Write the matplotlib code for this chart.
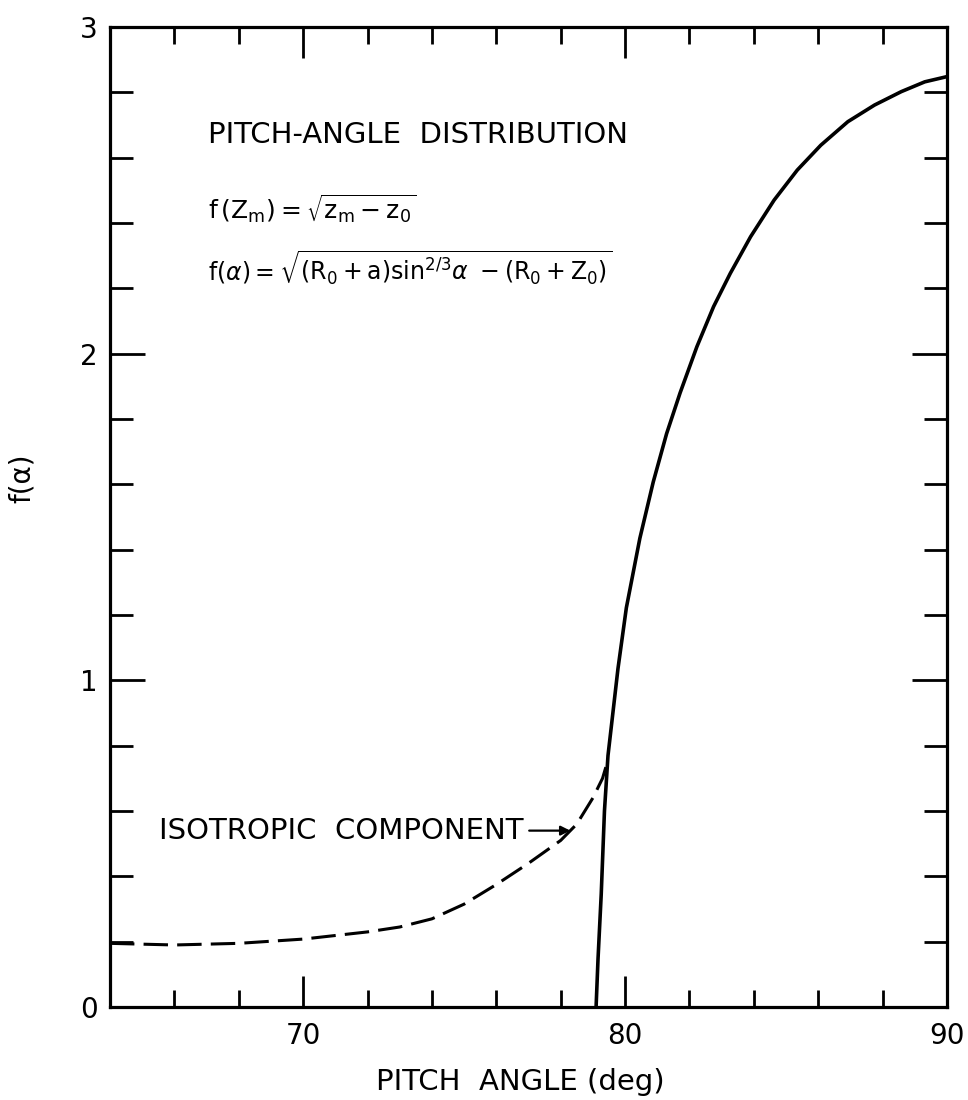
import matplotlib
matplotlib.use("Agg")
import matplotlib.pyplot as plt
from matplotlib.ticker import MultipleLocator

# solid curve: f(alpha) from the mirror-point distribution
solid_angle = [79.1, 79.16, 79.26, 79.36, 79.47, 79.625, 79.78, 80.04, 80.46,
               80.875, 81.29, 81.71, 82.23, 82.75, 83.27, 83.9, 84.63, 85.35,
               86.08, 86.92, 87.75, 88.58, 89.31, 90.0]
solid_f = [0.0, 0.147, 0.346, 0.60, 0.77, 0.903, 1.036, 1.222, 1.435,
           1.607, 1.755, 1.88, 2.021, 2.144, 2.246, 2.358, 2.47, 2.562,
           2.638, 2.71, 2.761, 2.802, 2.832, 2.848]

# dashed curve: isotropic component
iso_angle = [64.0, 66.0, 68.0, 70.0, 72.0, 73.0, 74.0, 75.0, 76.0, 77.0,
             77.5, 78.0, 78.5, 79.0, 79.3, 79.45]
iso_f = [0.195, 0.19, 0.195, 0.208, 0.23, 0.245, 0.27, 0.315, 0.375, 0.44,
         0.475, 0.51, 0.56, 0.64, 0.70, 0.75]

x_major = [70, 80, 90]
y_major = [0, 1, 2, 3]

plt.rcParams["font.family"] = ["DejaVu Sans"]
plt.rcParams["mathtext.fontset"] = "dejavusans"

fig = plt.figure(figsize=(9.68, 11), dpi=100)
ax = fig.add_axes([0.1136, 0.0845, 0.8647, 0.891])

ax.plot(solid_angle, solid_f, color="black", lw=2.6, solid_capstyle="butt",
        solid_joinstyle="round")
ax.plot(iso_angle, iso_f, color="black", lw=2.2, dashes=(8, 3))

ax.set_xlim(64, 90)
ax.set_ylim(0, 3)
ax.set_xticks(x_major)
ax.set_yticks(y_major)
ax.xaxis.set_minor_locator(MultipleLocator(2))
ax.yaxis.set_minor_locator(MultipleLocator(0.2))

for s in ax.spines.values():
    s.set_linewidth(2.3)

ax.tick_params(axis="both", which="both", direction="in", top=True, right=True,
               width=2.0, labelsize=20)
ax.tick_params(axis="x", which="major", length=22, pad=11)
ax.tick_params(axis="x", which="minor", length=12)
ax.tick_params(axis="y", which="major", length=25, pad=9)
ax.tick_params(axis="y", which="minor", length=16.5)

ax.set_xlabel("PITCH  ANGLE (deg)", fontsize=21)
ax.xaxis.set_label_coords(0.49, -0.062)
ax.set_ylabel("f(α)", fontsize=20)
ax.yaxis.set_label_coords(-0.088, 0.54)

ax.text(67.03, 2.645, "PITCH-ANGLE  DISTRIBUTION", fontsize=21, va="baseline")
ax.text(67.06, 2.409, r"$\mathrm{f\,(Z_m)}=\sqrt{\mathrm{z_m-z_0}}$",
        fontsize=18, va="baseline")
ax.text(67.06, 2.225,
        r"$\mathrm{f(}\alpha\mathrm{)}=\sqrt{\mathrm{(R_0+a)sin^{2/3}}\alpha\ -\mathrm{(R_0+Z_0)}}$",
        fontsize=17, va="baseline")

ax.annotate("ISOTROPIC  COMPONENT", xy=(78.3, 0.54), xytext=(76.85, 0.54),
            fontsize=21, ha="right", va="center",
            arrowprops=dict(arrowstyle="-|>", color="black", lw=1.6,
                            shrinkA=2, shrinkB=0, mutation_scale=14))

fig.savefig("out.png", dpi=100)
